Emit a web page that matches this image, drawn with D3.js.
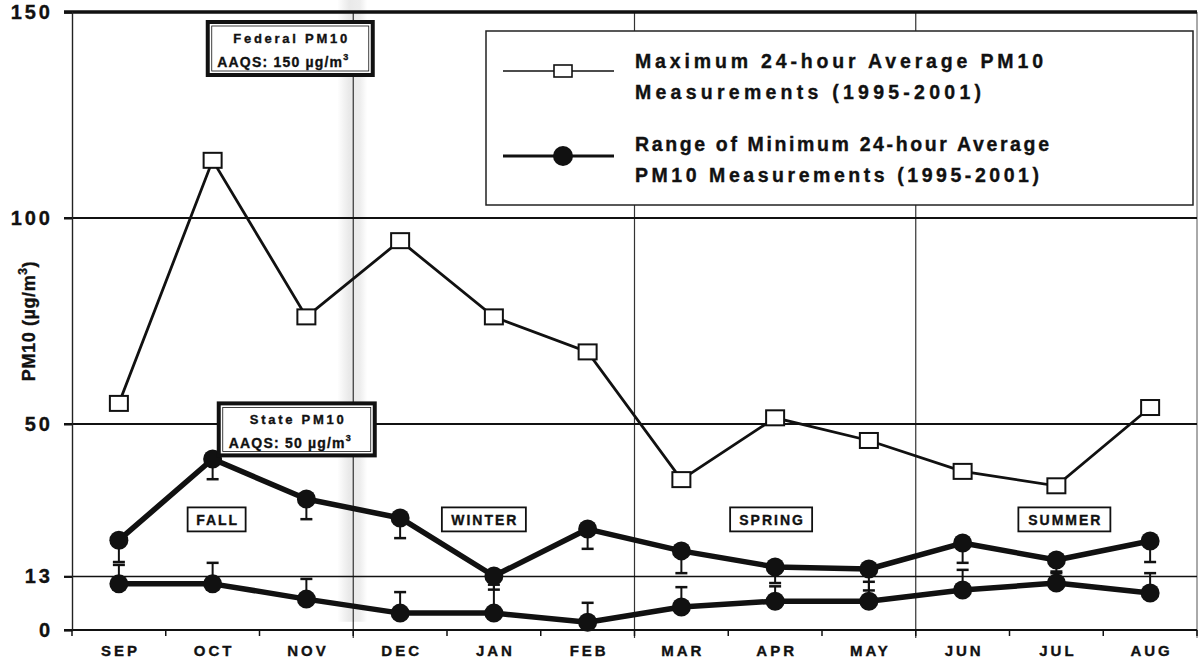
<!DOCTYPE html>
<html>
<head>
<meta charset="utf-8">
<script src="https://cdn.jsdelivr.net/npm/d3@7"></script>
<style>
  body { margin: 0; background: #fff; }
  svg { display: block; font-family: "Liberation Sans", Arial, sans-serif; }
  svg text { stroke: #111; stroke-width: 0.35px; }
</style>
</head>
<body>
<svg id="chart" width="1204" height="663"></svg>
<script>
const months = ["SEP","OCT","NOV","DEC","JAN","FEB","MAR","APR","MAY","JUN","JUL","AUG"];
const maxValues = [55, 114, 76, 94.5, 76, 67.5, 36.5, 51.5, 46, 38.5, 35, 54];
// upper and lower "minimum" series, with their error bar ends
const minHigh = [21.8, 41.5, 31.8, 27.2, 13.1, 24.5, 19.2, 15.3, 14.8, 21.1, 17, 21.6];
const minHighErr = [16.5, 36.6, 26.9, 22.3, 9.8, 19.7, 13.8, 11.4, 9.6, 16.3, 14.2, 16.5];
const minLow = [11.2, 11.2, 7.5, 4.1, 4.1, 1.9, 5.6, 7, 7, 9.7, 11.4, 9];
const minLowErr = [15.8, 16.3, 12.4, 9.2, 11, 6.6, 10.4, 10.6, 11.7, 14.6, 13.8, 13.8];
const yTicks = [0, 13, 50, 100, 150];
const seasons = ["FALL", "WINTER", "SPRING", "SUMMER"];
const seasonBreaks = ["DEC", "MAR", "JUN"];

const svg = d3.select("#chart");
const margin = {top: 12, right: 7, bottom: 33, left: 72};
const W = 1204, H = 663;

const x = d3.scaleBand().domain(months).range([margin.left, W - margin.right]).paddingInner(0).paddingOuter(0);
const y = d3.scaleLinear().domain([0, 150]).range([H - margin.bottom, margin.top]);
const cx = m => x(m) + x.bandwidth() / 2;

// scan shadow near the NOV/DEC divider
const defs = svg.append("defs");
const grad = defs.append("linearGradient").attr("id", "shade");
grad.append("stop").attr("offset", "0%").attr("stop-color", "#fff");
grad.append("stop").attr("offset", "40%").attr("stop-color", "#e9e9e9");
grad.append("stop").attr("offset", "75%").attr("stop-color", "#ededed");
grad.append("stop").attr("offset", "100%").attr("stop-color", "#fff");
svg.append("rect")
  .attr("x", x("DEC") - 16).attr("width", 30)
  .attr("y", 0).attr("height", y(2))
  .attr("fill", "url(#shade)");

// season dividers
svg.selectAll(".divider").data(seasonBreaks).join("line")
  .attr("x1", d => x(d)).attr("x2", d => x(d))
  .attr("y1", y(150)).attr("y2", y(0) + 8)
  .attr("stroke", "#333").attr("stroke-width", 1.2);

// right frame
svg.append("line")
  .attr("x1", W - margin.right).attr("x2", W - margin.right)
  .attr("y1", y(150)).attr("y2", y(0) + 8)
  .attr("stroke", "#555").attr("stroke-width", 1);

// horizontal reference lines
const lineWidth = {0: 2, 13: 1.6, 50: 2.2, 100: 2, 150: 3.5};
svg.selectAll(".hline").data(yTicks).join("line")
  .attr("x1", margin.left - 8).attr("x2", W - margin.right)
  .attr("y1", d => y(d)).attr("y2", d => y(d))
  .attr("stroke", "#111").attr("stroke-width", d => lineWidth[d]);

// left axis
const yAxis = svg.append("g").attr("transform", `translate(${margin.left},0)`)
  .call(d3.axisLeft(y).tickValues(yTicks).tickSize(8).tickPadding(11));
yAxis.select(".domain").attr("stroke", "#222").attr("stroke-width", 1.4);
yAxis.selectAll("line").attr("stroke", "#111").attr("stroke-width", 2);
yAxis.selectAll("text")
  .attr("font-size", 20).attr("font-weight", "bold").attr("fill", "#111")
  .attr("letter-spacing", 3)
  .attr("font-family", "Liberation Sans, Arial, sans-serif");

// bottom axis: ticks at month boundaries, labels at centers
const xTickPos = months.map(m => x(m)).concat([W - margin.right]);
svg.selectAll(".xtick").data(xTickPos).join("line")
  .attr("x1", d => d).attr("x2", d => d)
  .attr("y1", y(0)).attr("y2", y(0) + 6)
  .attr("stroke", "#111").attr("stroke-width", 1.5);
const xAxis = svg.append("g").attr("transform", `translate(0,${y(0)})`)
  .call(d3.axisBottom(x).tickSize(0).tickPadding(15));
xAxis.select(".domain").remove();
xAxis.selectAll("text")
  .attr("font-size", 15).attr("font-weight", "bold").attr("fill", "#111")
  .attr("letter-spacing", 3).attr("dx", 1.5)
  .attr("font-family", "Liberation Sans, Arial, sans-serif");

// y title
const yt = svg.append("text")
  .attr("transform", `translate(35,${y(75)}) rotate(-90)`)
  .attr("text-anchor", "middle")
  .attr("font-size", 18).attr("font-weight", "bold").attr("fill", "#111")
  .attr("letter-spacing", 0.6);
yt.append("tspan").text("PM10 (µg/m");
yt.append("tspan").attr("font-size", 12).attr("dy", -8).text("3");
yt.append("tspan").attr("dy", 8).text(")");

// error bars
function errBars(vals, ends, cls) {
  const g = svg.append("g").attr("class", cls);
  months.forEach((m, i) => {
    g.append("line")
      .attr("x1", cx(m)).attr("x2", cx(m))
      .attr("y1", y(vals[i])).attr("y2", y(ends[i]))
      .attr("stroke", "#111").attr("stroke-width", 2);
    g.append("line")
      .attr("x1", cx(m) - 6).attr("x2", cx(m) + 6)
      .attr("y1", y(ends[i])).attr("y2", y(ends[i]))
      .attr("stroke", "#111").attr("stroke-width", 2.5);
  });
}
errBars(minHigh, minHighErr, "err-high");
errBars(minLow, minLowErr, "err-low");

const line = d3.line().x((d, i) => cx(months[i])).y(d => y(d));

// min series
[minHigh, minLow].forEach(vals => {
  svg.append("path").datum(vals)
    .attr("d", line).attr("fill", "none")
    .attr("stroke", "#111").attr("stroke-width", 5.5).attr("stroke-linejoin", "round");
  svg.append("g").selectAll("circle").data(vals).join("circle")
    .attr("cx", (d, i) => cx(months[i])).attr("cy", d => y(d))
    .attr("r", 9.5).attr("fill", "#111");
});

// max series
svg.append("path").datum(maxValues)
  .attr("d", line).attr("fill", "none")
  .attr("stroke", "#111").attr("stroke-width", 2.8);
svg.append("g").selectAll("rect").data(maxValues).join("rect")
  .attr("x", (d, i) => cx(months[i]) - 9).attr("y", d => y(d) - 7.5)
  .attr("width", 18).attr("height", 15)
  .attr("fill", "#fff").attr("stroke", "#111").attr("stroke-width", 2);

// standard boxes
function stdBox(x0, y0, w, h, line1, len1, line2num, len2) {
  const g = svg.append("g");
  g.append("rect").attr("x", x0).attr("y", y0).attr("width", w).attr("height", h)
    .attr("fill", "#fff").attr("stroke", "#111").attr("stroke-width", 4);
  g.append("rect").attr("x", x0 + 4).attr("y", y0 + 4).attr("width", w - 8).attr("height", h - 8)
    .attr("fill", "none").attr("stroke", "#111").attr("stroke-width", 0.8);
  g.append("text").attr("x", x0 + w / 2 - len1 / 2).attr("y", y0 + 21)
    .attr("font-size", 13).attr("font-weight", "bold")
    .attr("textLength", len1).attr("lengthAdjust", "spacing")
    .attr("fill", "#111").text(line1);
  const t = g.append("text").attr("x", x0 + w / 2 - len2 / 2).attr("y", y0 + 45)
    .attr("font-size", 14).attr("font-weight", "bold")
    .attr("letter-spacing", 1.2).attr("fill", "#111");
  t.append("tspan").text(`AAQS: ${line2num} µg/m`);
  t.append("tspan").attr("font-size", 9).attr("dy", -7).text("3");
}
stdBox(x("OCT") + 42, y(150) + 10, 165, 53, "Federal PM10", 114, 150, 146);
stdBox(x("OCT") + 53, y(55), 156, 52, "State PM10", 94, 50, 136);

// season labels
const seasonPos = [
  {x: cx("OCT") - 25, w: 58},
  {x: cx("JAN") - 52, w: 84},
  {x: cx("APR") - 45, w: 82},
  {x: cx("JUL") - 38, w: 92}
];
seasons.forEach((s, i) => {
  const p = seasonPos[i];
  svg.append("rect").attr("x", p.x).attr("y", y(30) + 1).attr("width", p.w).attr("height", 24)
    .attr("fill", "#fff").attr("stroke", "#111").attr("stroke-width", 1.8);
  svg.append("text").attr("x", p.x + p.w / 2 + 1).attr("y", y(30) + 19)
    .attr("text-anchor", "middle").attr("font-size", 14).attr("font-weight", "bold")
    .attr("letter-spacing", 2).attr("fill", "#111").text(s);
});

// legend
const lg = svg.append("g");
lg.append("rect").attr("x", 486).attr("y", 31).attr("width", 707).attr("height", 174)
  .attr("fill", "#fff").attr("stroke", "#222").attr("stroke-width", 1.5);
lg.append("line").attr("x1", 503).attr("x2", 614).attr("y1", 71).attr("y2", 71)
  .attr("stroke", "#111").attr("stroke-width", 1.6);
lg.append("rect").attr("x", 554).attr("y", 65).attr("width", 18).attr("height", 12)
  .attr("fill", "#fff").attr("stroke", "#111").attr("stroke-width", 1.6);
lg.append("line").attr("x1", 503).attr("x2", 614).attr("y1", 156).attr("y2", 156)
  .attr("stroke", "#111").attr("stroke-width", 3);
lg.append("circle").attr("cx", 563).attr("cy", 156).attr("r", 10).attr("fill", "#111");
const legendText = [
  {t: "Maximum 24-hour Average PM10", y: 68, len: 408},
  {t: "Measurements (1995-2001)", y: 99, len: 346},
  {t: "Range of Minimum 24-hour Average", y: 151, len: 414},
  {t: "PM10 Measurements (1995-2001)", y: 182, len: 404}
];
lg.selectAll("text.lt").data(legendText).join("text")
  .attr("x", 635).attr("y", d => d.y)
  .attr("font-size", 19.5).attr("font-weight", "bold").attr("fill", "#111")
  .attr("textLength", d => d.len).attr("lengthAdjust", "spacing")
  .text(d => d.t);
</script>
</body>
</html>
